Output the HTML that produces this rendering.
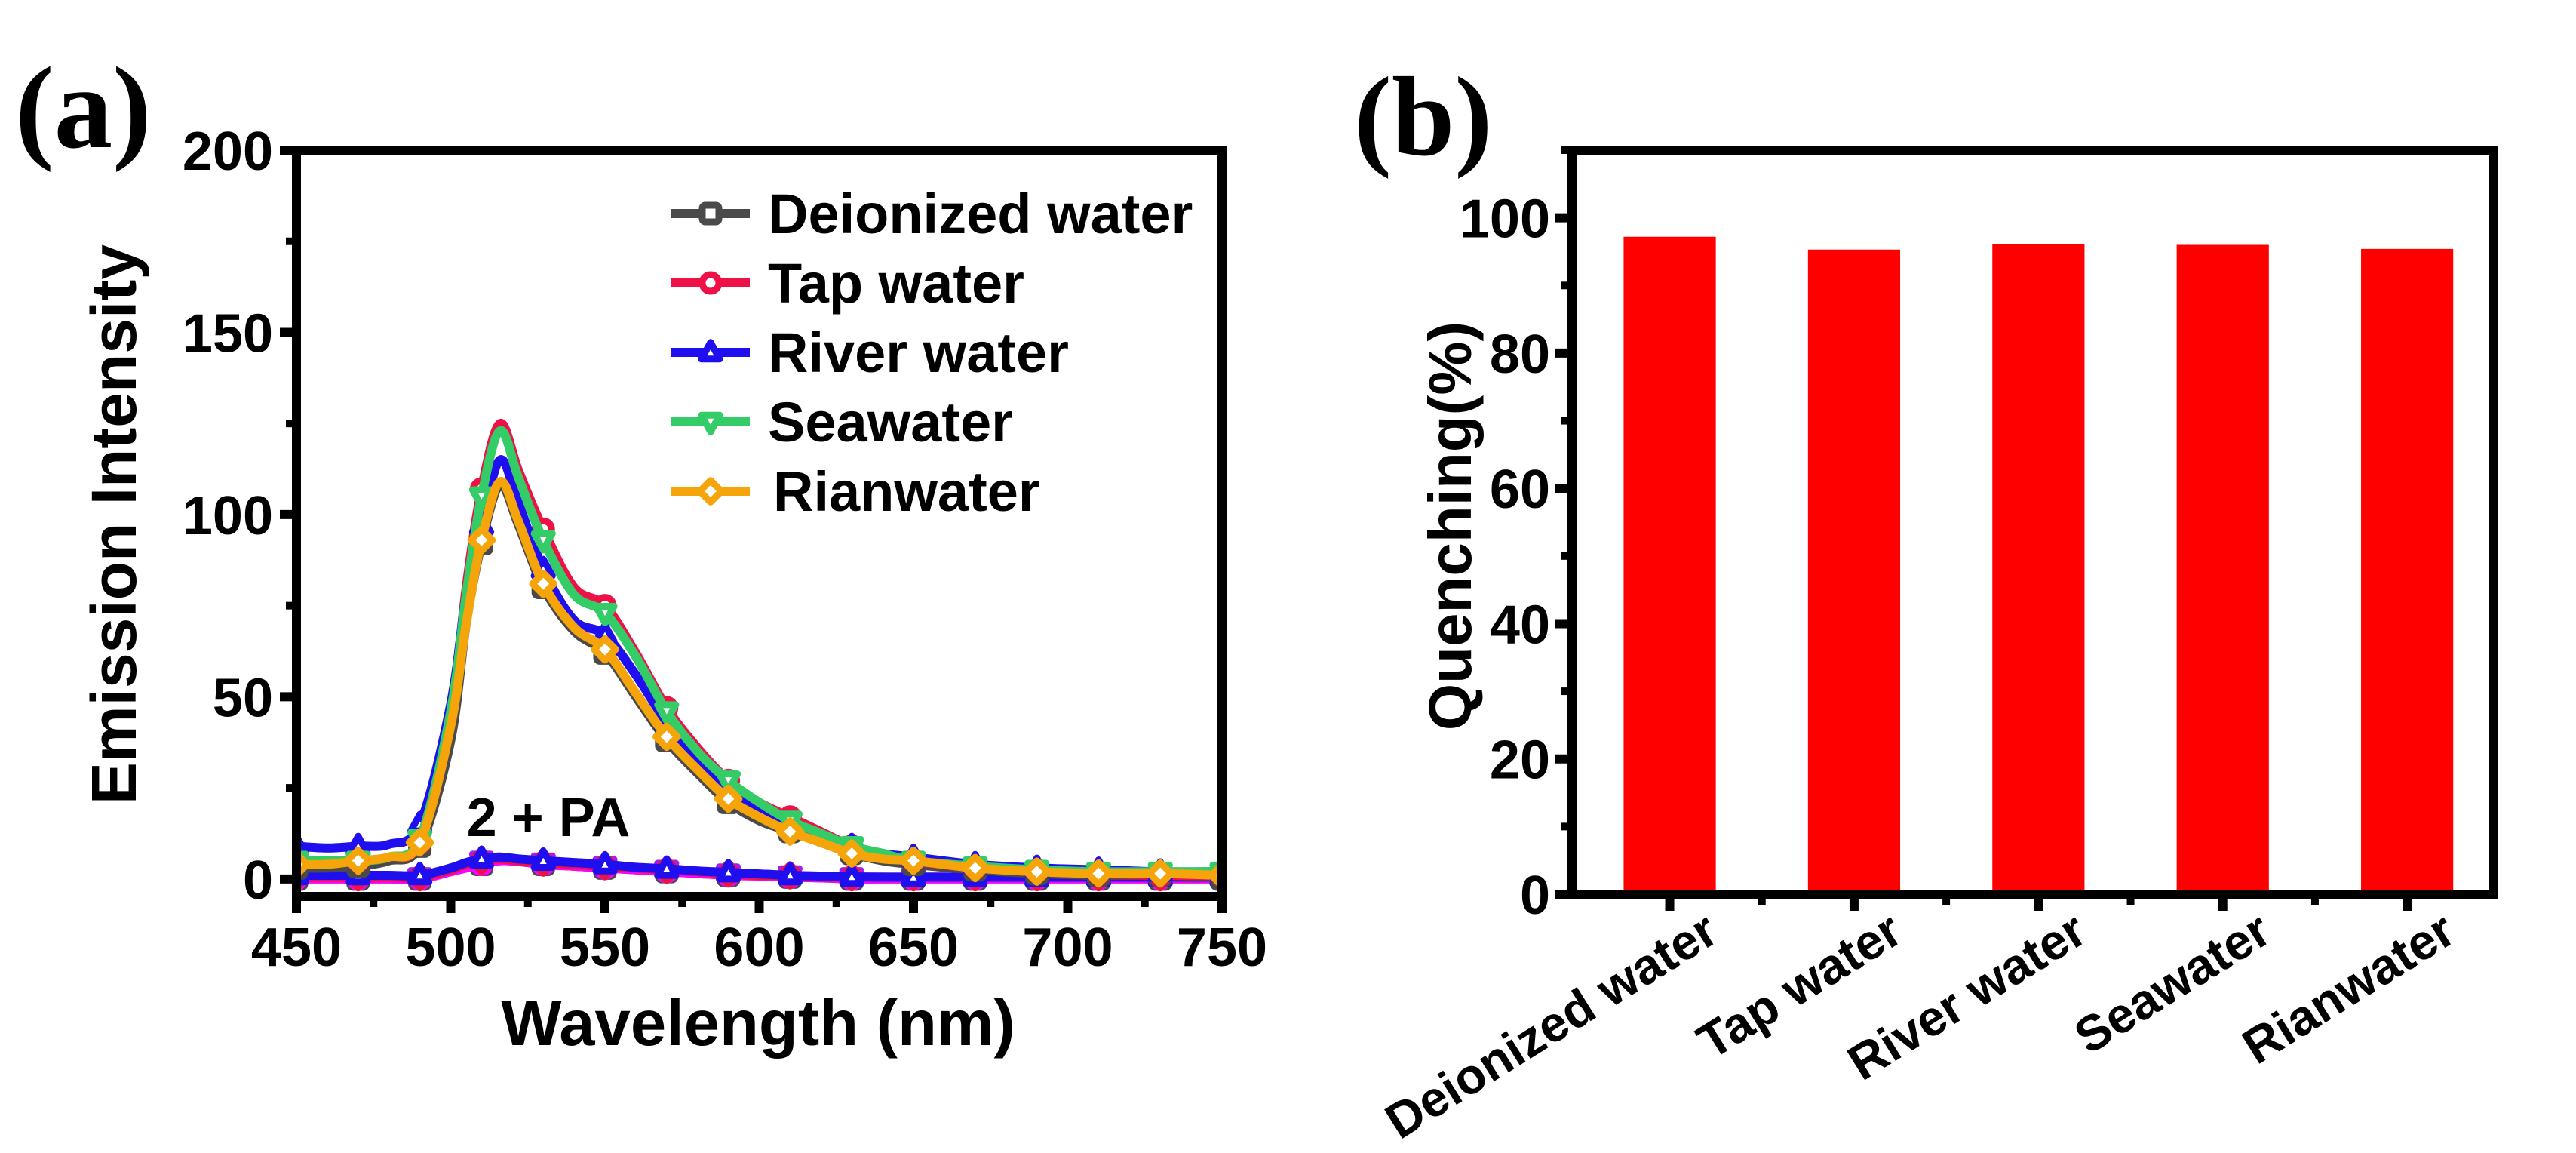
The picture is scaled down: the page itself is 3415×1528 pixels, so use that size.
<!DOCTYPE html>
<html><head><meta charset="utf-8"><style>
html,body{margin:0;padding:0;background:#fff;}
svg{display:block;font-family:"Liberation Sans",Arial,sans-serif;}
</style></head><body>
<svg id="fig" width="3415" height="1528" viewBox="0 0 3415 1528" xmlns="http://www.w3.org/2000/svg">
<rect width="3415" height="1528" fill="#fff"/>
<text x="20" y="195" font-family="Liberation Serif,serif" font-weight="bold" font-size="155">(a)</text>
<text x="1795" y="205" font-family="Liberation Serif,serif" font-weight="bold" font-size="150">(b)</text>
<g id="ga"></g>
<g id="gb"></g>
</svg>
<script>
// ---- Panel (a) data ----
const wl = [450,460,470,480,490,500,505,510,516,522,530,540,550,560,570,580,590,600,610,620,630,640,650,670,690,710,730,750];
const seriesNames = ["Deionized water","Tap water","River water","Seawater","Rianwater"];
const deionized = [3,3,3.5,5,9,38,70,92,108,97,80,68,62,50,38,29,21,16,13,10,7,5,4,2.5,1.5,1,1,0.5];
const tapWater  = [5,5,5,6,10,44,80,107,125,112,96,80,75,62,47,36,27,21,17,13,9,7,5,3,2,1.5,1,1];
const riverWater= [9,8.5,9,9.5,15,48,78,97,115,103,85,71,67,56,43,33,24,19,15,12,9,7,6,4,3,2.5,2,2];
const seaWater  = [5,5,5,6,11,46,78,105,123,110,93,78,73,61,46,35,27,21,16,12.5,9,7,5,3.5,2.5,2,2,2];
const rainWater = [4,4,5,6,10,42,70,93,109,98,81,69,63,51,39,30,22,17,13,10,7,5.5,5,3,2,1.5,1.5,1];
const quenchA = [0,0,0,0,0,2,3,4,5,4.8,4,3.5,3,2.5,2,1.5,1,0.8,0.5,0.3,0,0,0,0,0,0,0,0];
const quenchB = [0.5,0.5,0.5,0.5,0.5,2.5,4,5,5.5,5,4.5,4,3.5,3,2.5,2,1.5,1,1,0.5,0.5,0.5,0.5,0.5,0.5,0.5,0.5,0.5];
const quenchBlue = [1,1,1,1,1,3,4.5,5.5,6,5.5,5,4.5,4,3.2,2.8,2.2,1.8,1.4,1,0.8,0.6,0.5,0.5,0.5,0.5,0.5,0.5,0.5];
const xTicks = [450,500,550,600,650,700,750];
const yTicks = [0,50,100,150,200];
// ---- Panel (b) data ----
const categories = ["Deionized water","Tap water","River water","Seawater","Rianwater"];
const quenching = [97.2,95.3,96.1,96.0,95.4];
const yTicksB = [0,20,40,60,80,100];

const NS="http://www.w3.org/2000/svg";
function mk(parent, tag, attrs, text){
  const e=document.createElementNS(NS,tag);
  for(const k in attrs) e.setAttribute(k,attrs[k]);
  if(text!==undefined) e.textContent=text;
  parent.appendChild(e); return e;
}
const colors=["#4a4a4a","#ee1148","#1f0fef","#33cc66","#f5a40a"];
const shapes=["square","circle","triangle","tridown","diamond"];

// ---- Panel (a) ----
const ga=document.getElementById('ga');
const A={l:393,r:1620,t:199,b:1188,x0:450,x1:750,y0:-4.8,y1:200};
const xa=v=>A.l+(v-A.x0)/(A.x1-A.x0)*(A.r-A.l);
const ya=v=>A.b-(v-A.y0)/(A.y1-A.y0)*(A.b-A.t);
function smooth(pts){
  let d="M"+pts[0][0]+","+pts[0][1];
  for(let i=0;i<pts.length-1;i++){
    const p0=pts[Math.max(0,i-1)],p1=pts[i],p2=pts[i+1],p3=pts[Math.min(pts.length-1,i+2)];
    const c1=[p1[0]+(p2[0]-p0[0])/6,p1[1]+(p2[1]-p0[1])/6];
    const c2=[p2[0]-(p3[0]-p1[0])/6,p2[1]-(p3[1]-p1[1])/6];
    d+=" C"+c1[0].toFixed(1)+","+c1[1].toFixed(1)+" "+c2[0].toFixed(1)+","+c2[1].toFixed(1)+" "+p2[0].toFixed(1)+","+p2[1].toFixed(1);
  }
  return d;
}
function marker(parent,shape,cx,cy,col,s){
  let e;
  const st={fill:"#fff",stroke:col,"stroke-width":9,"stroke-linejoin":"round"};
  if(shape==="square"){e=mk(parent,"rect",Object.assign({x:cx-s,y:cy-s,width:2*s,height:2*s,rx:4},st));}
  else if(shape==="circle"){e=mk(parent,"circle",Object.assign({cx:cx,cy:cy,r:s},st));}
  else if(shape==="triangle"){e=mk(parent,"polygon",Object.assign({points:`${cx},${cy-s*1.2} ${cx+s*1.1},${cy+s*0.8} ${cx-s*1.1},${cy+s*0.8}`},st));}
  else if(shape==="tridown"){e=mk(parent,"polygon",Object.assign({points:`${cx},${cy+s*1.2} ${cx+s*1.1},${cy-s*0.8} ${cx-s*1.1},${cy-s*0.8}`},st));}
  else {e=mk(parent,"polygon",Object.assign({points:`${cx},${cy-s*1.3} ${cx+s*1.3},${cy} ${cx},${cy+s*1.3} ${cx-s*1.3},${cy}`},st));}
  return e;
}
const clip=mk(ga,"clipPath",{id:"clipA"});
mk(clip,"rect",{x:A.l,y:A.t,width:A.r-A.l,height:A.b-A.t});
const plotA=mk(ga,"g",{"clip-path":"url(#clipA)"});
function drawSeries(vals,col,shape,name){
  const g=mk(plotA,"g",{});
  
  
  const p=mk(g,"path",{d:smooth(wl.map((w,i)=>[xa(w),ya(vals[i])])),fill:"none",stroke:col,"stroke-width":12,"stroke-linejoin":"round"});
  
  
  wl.forEach((w,i)=>{ if((w-450)%20===0){
    const m=marker(g,shape,xa(w),ya(vals[i]),col,11);
    
    
  }});
}
const lowSets=[[quenchA,"#4a4a4a","square"],[quenchA,"#ff00ff","circle"],[quenchB,"#a020f0","tridown"],[quenchB,"#ee1148","diamond"],[quenchBlue,"#1f0fef","triangle"]];
lowSets.forEach((s,i)=>drawSeries(s[0],s[1],s[2],"quenched-series-"+(i+1)));
[deionized,tapWater,riverWater,seaWater,rainWater].forEach((v,i)=>drawSeries(v,colors[i],shapes[i],"series-"+seriesNames[i].toLowerCase().replace(/ /g,"-")));
const fa=mk(ga,"rect",{x:A.l,y:A.t,width:A.r-A.l,height:A.b-A.t,fill:"none",stroke:"#000","stroke-width":12});


xTicks.forEach(v=>{
  const t=mk(ga,"line",{x1:xa(v),x2:xa(v),y1:A.b,y2:A.b+22,stroke:"#000","stroke-width":12});
  
  
  const l=mk(ga,"text",{x:xa(v),y:1280,"text-anchor":"middle","font-size":72,"font-weight":"bold"},String(v));
  
  
});
for(let v=475;v<750;v+=50){
  const t=mk(ga,"line",{x1:xa(v),x2:xa(v),y1:A.b,y2:A.b+14,stroke:"#000","stroke-width":10});
  
  
}
yTicks.forEach(v=>{
  const t=mk(ga,"line",{x1:A.l-22,x2:A.l,y1:ya(v),y2:ya(v),stroke:"#000","stroke-width":12});
  
  
  const l=mk(ga,"text",{x:362,y:ya(v)+26,"text-anchor":"end","font-size":72,"font-weight":"bold"},String(v));
  
  
});
for(let v=25;v<200;v+=50){
  const t=mk(ga,"line",{x1:A.l-14,x2:A.l,y1:ya(v),y2:ya(v),stroke:"#000","stroke-width":10});
  
  
}
const xt=mk(ga,"text",{x:1005,y:1385,"text-anchor":"middle","font-size":85,"font-weight":"bold"},"Wavelength (nm)");


const yt=mk(ga,"text",{x:0,y:0,transform:"translate(180,695) rotate(-90)","text-anchor":"middle","font-size":84,"font-weight":"bold"},"Emission Intensity");


const ann=mk(ga,"text",{x:727,y:1108,"text-anchor":"middle","font-size":72,"font-weight":"bold"},"2 + PA");


const lg=mk(ga,"g",{});


seriesNames.forEach((n,i)=>{
  const cy=283+i*92;
  const e=mk(lg,"g",{});
  
  
  mk(e,"line",{x1:890,x2:994,y1:cy,y2:cy,stroke:colors[i],"stroke-width":12});
  marker(e,shapes[i],942,cy,colors[i],11);
  mk(e,"text",{x:i===4?1025:1018,y:cy+26,"font-size":74,"font-weight":"bold"},n);
});

// ---- Panel (b) ----
const gb=document.getElementById('gb');
const B={l:2084,r:3306,t:199,b:1185,x0:0.47,x1:5.47,y0:0,y1:110};
const xb=v=>B.l+(v-B.x0)/(B.x1-B.x0)*(B.r-B.l);
const yb=v=>B.b-(v-B.y0)/(B.y1-B.y0)*(B.b-B.t);
const bw=0.5*(B.r-B.l)/(B.x1-B.x0);
quenching.forEach((v,i)=>{
  const r=mk(gb,"rect",{x:xb(i+1)-bw/2,y:yb(v),width:bw,height:yb(0)-yb(v),fill:"#ff0000"});
  
  
});
const fb=mk(gb,"rect",{x:B.l,y:B.t,width:B.r-B.l,height:B.b-B.t,fill:"none",stroke:"#000","stroke-width":12});


categories.forEach((c,i)=>{
  const t=mk(gb,"line",{x1:xb(i+1),x2:xb(i+1),y1:B.b,y2:B.b+22,stroke:"#000","stroke-width":12});
  
  
  const cx=xb(i+1)+68, cy=1245;
  const l=mk(gb,"text",{x:0,y:0,transform:`translate(${cx},${cy}) rotate(-32)`,"text-anchor":"end","font-size":66,"font-weight":"bold"},c);
  
  
  if(i<4){
    const m=mk(gb,"line",{x1:xb(i+1.5),x2:xb(i+1.5),y1:B.b,y2:B.b+14,stroke:"#000","stroke-width":10});
    
    
  }
});
yTicksB.forEach(v=>{
  const t=mk(gb,"line",{x1:B.l-22,x2:B.l,y1:yb(v),y2:yb(v),stroke:"#000","stroke-width":12});
  
  
  const l=mk(gb,"text",{x:2055,y:yb(v)+26,"text-anchor":"end","font-size":72,"font-weight":"bold"},String(v));
  
  
});
for(let v=10;v<=110;v+=20){
  const t=mk(gb,"line",{x1:B.l-14,x2:B.l,y1:yb(v),y2:yb(v),stroke:"#000","stroke-width":10});
  
  
}
const ytb=mk(gb,"text",{x:0,y:0,transform:"translate(1950,697) rotate(-90)","text-anchor":"middle","font-size":80,"font-weight":"bold"},"Quenching(%)");


</script>
</body></html>
